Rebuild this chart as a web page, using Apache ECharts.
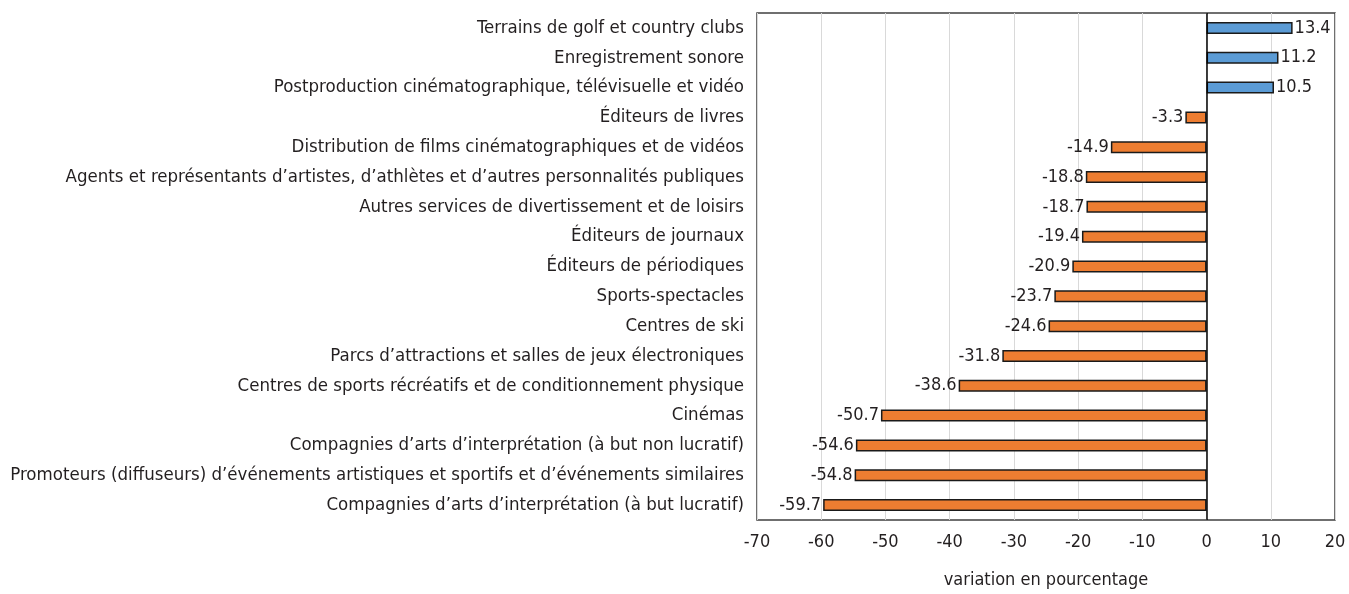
<!DOCTYPE html>
<html>
<head>
<meta charset="utf-8">
<script src="https://cdn.jsdelivr.net/npm/echarts@6/dist/echarts.min.js"></script>
<style>
  html, body { margin: 0; padding: 0; background: #fff; }
  #chart { width: 1349px; height: 594px; }
</style>
</head>
<body>
<div id="chart"></div>
<script>
// categories, top to bottom
const categories = [
  'Terrains de golf et country clubs',
  'Enregistrement sonore',
  'Postproduction cinématographique, télévisuelle et vidéo',
  'Éditeurs de livres',
  'Distribution de films cinématographiques et de vidéos',
  'Agents et représentants d’artistes, d’athlètes et d’autres personnalités publiques',
  'Autres services de divertissement et de loisirs',
  'Éditeurs de journaux',
  'Éditeurs de périodiques',
  'Sports-spectacles',
  'Centres de ski',
  'Parcs d’attractions et salles de jeux électroniques',
  'Centres de sports récréatifs et de conditionnement physique',
  'Cinémas',
  'Compagnies d’arts d’interprétation (à but non lucratif)',
  'Promoteurs (diffuseurs) d’événements artistiques et sportifs et d’événements similaires',
  'Compagnies d’arts d’interprétation (à but lucratif)'
]
const values = [13.4, 11.2, 10.5, -3.3, -14.9, -18.8, -18.7, -19.4, -20.9, -23.7, -24.6, -31.8, -38.6, -50.7, -54.6, -54.8, -59.7]
const axisName = 'variation en pourcentage'

const font = '"Liberation Sans Narrow", "DejaVu Sans Condensed", sans-serif'
const textColor = '#231f20'

const chart = echarts.init(document.getElementById('chart'))

chart.setOption({
  animation: false,
  grid: {
    left: 757,
    right: 14,
    top: 13,
    bottom: 73,
    show: true,
    borderColor: '#404040',
    borderWidth: 1.5
  },
  xAxis: {
    type: 'value',
    min: -70,
    max: 20,
    interval: 10,
    name: axisName,
    nameLocation: 'middle',
    nameGap: 51,
    nameTextStyle: { fontFamily: font, fontSize: 18, color: textColor },
    axisLine: { show: false },
    axisTick: { show: false },
    axisLabel: { fontFamily: font, fontSize: 18, color: textColor, margin: 13 },
    splitLine: { lineStyle: { color: '#d9d9d9', width: 1 } }
  },
  yAxis: {
    type: 'category',
    data: categories,
    inverse: true,
    axisLine: { show: false },
    axisTick: { show: false },
    axisLabel: { fontFamily: font, fontSize: 18.5, color: textColor, margin: 13 }
  },
  series: [{
    type: 'bar',
    data: values.map(v => ({
      value: v,
      itemStyle: { color: v >= 0 ? '#5b9bd5' : '#ed7d31' },
      label: { position: v >= 0 ? 'right' : 'left' }
    })),
    barWidth: 12,
    itemStyle: { borderColor: '#1a1a1a', borderWidth: 1.5 },
    label: {
      show: true,
      distance: 2,
      fontFamily: font,
      fontSize: 18,
      color: textColor,
      formatter: p => p.value.toFixed(1)
    },
    markLine: {
      silent: true,
      symbol: 'none',
      label: { show: false },
      lineStyle: { color: '#000', type: 'solid', width: 1.5 },
      data: [{ xAxis: 0 }]
    }
  }]
})
</script>
</body>
</html>
